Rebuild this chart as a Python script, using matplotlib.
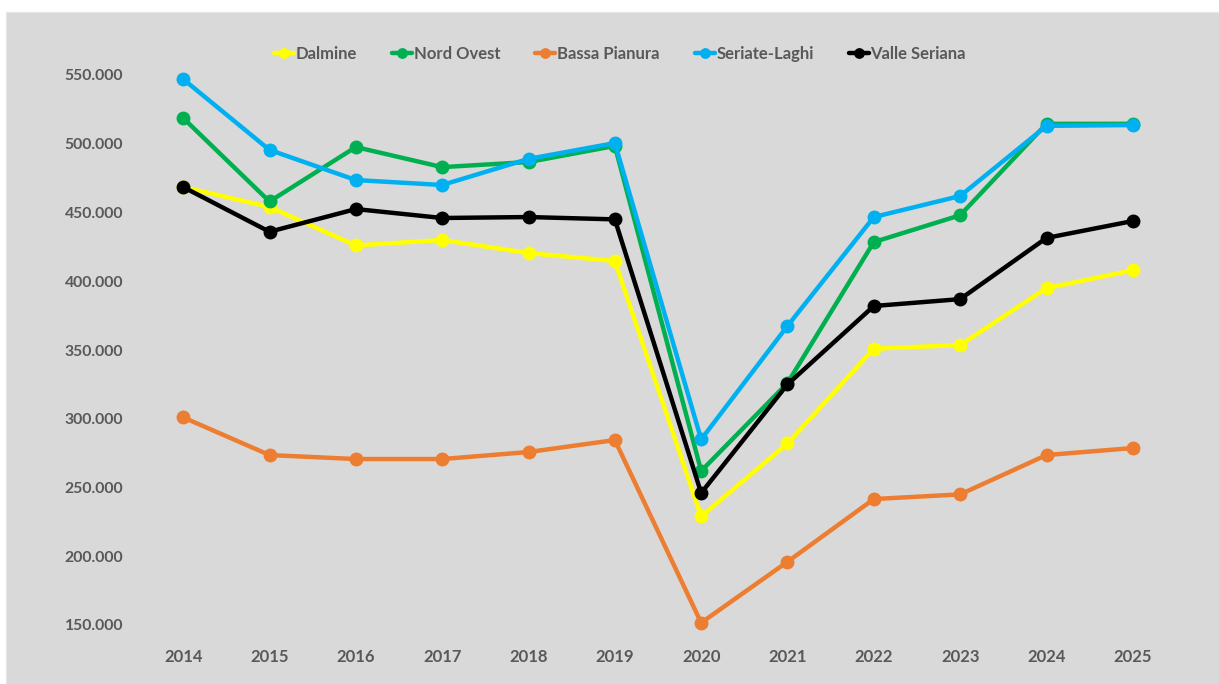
import matplotlib.pyplot as plt
from matplotlib.patches import Rectangle
from matplotlib.ticker import FuncFormatter

years = [2014, 2015, 2016, 2017, 2018, 2019, 2020, 2021, 2022, 2023, 2024, 2025]

dalmine = [468500, 454000, 426000, 430000, 420500, 414700, 229000, 282000, 351000, 353600, 395000, 408000]
nord_ovest = [518700, 458000, 497600, 483000, 486700, 498400, 262000, 326000, 428500, 448000, 514500, 514500]
bassa_pianura = [301000, 273600, 270700, 270700, 275800, 284500, 151600, 196000, 241600, 245000, 273600, 278700]
seriate_laghi = [547000, 495500, 473600, 470000, 489000, 500500, 285000, 367500, 446700, 462000, 513000, 513600]
valle_seriana = [468500, 436000, 452500, 446000, 446700, 445000, 246000, 325000, 382000, 387000, 431500, 443800]

series = [
    ("Dalmine", dalmine, "#FFFF00"),
    ("Nord Ovest", nord_ovest, "#00B050"),
    ("Bassa Pianura", bassa_pianura, "#ED7D31"),
    ("Seriate-Laghi", seriate_laghi, "#00B0F0"),
    ("Valle Seriana", valle_seriana, "#000000"),
]

plt.rcParams['font.family'] = ['Lato', 'DejaVu Sans']
text_color = "#595959"

fig = plt.figure(figsize=(12.19, 6.84), dpi=100, facecolor="white")
# grey chart area
fig.patches.append(Rectangle((6 / 1219, 0), 1 - 6 / 1219, 1 - 12 / 684,
                             transform=fig.transFigure, facecolor="#D9D9D9",
                             edgecolor="#E6E6E6", lw=0.8, zorder=-5))

ax = fig.add_axes([140 / 1219, 1 - 625 / 684, (1176 - 140) / 1219, (625 - 75) / 684])
ax.set_facecolor("none")

x = list(range(len(years)))
for name, vals, col in series:
    ax.plot(x, vals, color=col, lw=3.2, marker="o", markersize=9, label=name,
            solid_capstyle="round", clip_on=False)

ax.set_xlim(-0.5, len(years) - 0.5)
ax.set_ylim(150000, 550000)
ax.set_yticks(range(150000, 550001, 50000))
ax.yaxis.set_major_formatter(FuncFormatter(lambda v, p: f"{int(v):,}".replace(",", ".")))
ax.set_xticks(x)
ax.set_xticklabels([str(y) for y in years])

for s in ax.spines.values():
    s.set_visible(False)
ax.tick_params(length=0, colors=text_color, labelsize=12)
ax.tick_params(axis="y", pad=12, labelsize=11.3)
ax.tick_params(axis="x", pad=17)
for lab in ax.get_xticklabels() + ax.get_yticklabels():
    lab.set_fontweight("bold")

leg = fig.legend(loc="center", bbox_to_anchor=(620 / 1219, 1 - 54 / 684), ncol=5,
                 frameon=False, handlelength=1.2, handletextpad=0.1, columnspacing=2.1,
                 markerscale=0.75, prop={"weight": "bold", "size": 12})
for t in leg.get_texts():
    t.set_color(text_color)

fig.savefig("out.png", dpi=100)
